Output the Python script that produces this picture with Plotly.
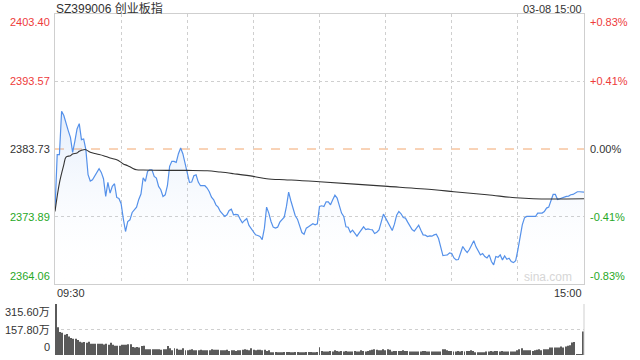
import plotly.graph_objects as go

# ---- data (minute index 0..240, 09:30-11:30 / 13:00-15:00) ----
prev_close = 2383.73
y_ticks_left = [2364.06, 2373.89, 2383.73, 2393.57, 2403.40]
y_ticks_right = ["-0.83%", "-0.41%", "0.00%", "+0.41%", "+0.83%"]
vol_ticks = [0, 157.80, 315.60]
vol_tick_labels = ["0", "157.80万", "315.60万"]

price = [
    2374.87, 2382.90, 2382.90, 2389.23, 2388.60, 2387.28, 2386.41, 2385.43, 2383.24, 2384.85,
    2386.65, 2387.43, 2385.09, 2385.19, 2383.63, 2379.98, 2379.06, 2379.25, 2379.84, 2380.42,
    2380.86, 2380.32, 2379.40, 2376.82, 2378.86, 2377.31, 2378.28, 2378.67, 2376.67, 2376.53,
    2375.75, 2373.56, 2371.71, 2373.17, 2373.41, 2374.48, 2374.87, 2375.26, 2376.38, 2377.16,
    2379.54, 2379.01, 2380.47, 2380.71, 2380.71, 2379.74, 2379.50, 2378.28, 2377.79, 2376.82,
    2377.06, 2378.38, 2381.20, 2381.93, 2381.93, 2381.78, 2383.05, 2383.88, 2383.05, 2381.78,
    2380.47, 2378.86, 2378.91, 2379.84, 2379.98, 2378.91, 2378.38, 2378.43, 2378.38, 2378.04,
    2377.50, 2376.72, 2376.33, 2375.60, 2375.26, 2374.63, 2374.24, 2373.90, 2374.14, 2374.78,
    2374.97, 2374.14, 2374.19, 2374.14, 2373.51, 2372.97, 2373.32, 2373.61, 2372.59, 2372.10,
    2371.76, 2371.22, 2371.12, 2370.98, 2370.54, 2372.20, 2375.26, 2374.39, 2373.17, 2372.34,
    2372.20, 2372.34, 2373.07, 2373.41, 2373.80, 2375.36, 2377.45, 2376.19, 2374.87, 2374.00,
    2373.51, 2372.68, 2371.56, 2371.32, 2372.20, 2372.39, 2372.68, 2372.83, 2372.68, 2372.83,
    2375.36, 2375.46, 2375.36, 2376.04, 2376.04, 2375.60, 2376.33, 2377.01, 2376.58, 2375.65,
    2374.39, 2373.90, 2372.39, 2372.34, 2371.56, 2371.90, 2371.47, 2371.03, 2371.51, 2372.05,
    2372.39, 2372.00, 2372.10, 2372.00, 2371.95, 2371.42, 2371.61, 2371.95, 2373.17, 2374.24,
    2373.66, 2373.02, 2372.39, 2371.85, 2372.78, 2374.09, 2374.63, 2374.29, 2373.75, 2373.66,
    2373.07, 2372.44, 2372.00, 2371.76, 2372.29, 2372.63, 2371.90, 2371.22, 2371.17, 2370.98,
    2371.08, 2371.03, 2371.22, 2371.32, 2370.69, 2369.28, 2368.20, 2368.25, 2368.30, 2368.59,
    2368.50, 2367.86, 2367.57, 2367.62, 2368.45, 2369.52, 2369.03, 2368.64, 2369.08, 2369.66,
    2370.35, 2369.47, 2368.93, 2368.30, 2368.50, 2368.06, 2367.86, 2368.30, 2367.33, 2366.84,
    2368.06, 2367.96, 2368.30, 2367.57, 2368.16, 2367.67, 2367.82, 2367.33, 2367.18, 2367.47,
    2369.03, 2370.74, 2372.68, 2373.70, 2373.90, 2373.90, 2373.90, 2374.00, 2373.90, 2374.39,
    2374.43, 2374.39, 2374.63, 2375.12, 2375.26, 2376.09, 2377.11, 2377.11, 2376.38, 2376.48,
    2376.62, 2376.72, 2376.82, 2376.87, 2377.06, 2377.11, 2377.35, 2377.50, 2377.50, 2377.50,
    2377.45,
]

avg_minutes = [0, 2, 4, 5, 7, 8, 10, 11, 13, 14, 16, 19, 22, 25, 28, 30, 31, 33, 35, 37, 40,
               51, 60, 69, 75, 81, 90, 96, 104, 111, 120, 151, 172, 181, 196, 209, 217, 240]
avg_price = [2374.63, 2378.77, 2381.44, 2382.56, 2382.76, 2383.00, 2383.15, 2383.39, 2383.63,
             2383.63, 2383.24, 2383.00, 2382.76, 2382.42, 2382.17, 2381.78, 2381.55, 2381.30,
             2380.96, 2380.71, 2380.66, 2380.61, 2380.61, 2380.57, 2380.37, 2380.13, 2379.74,
             2379.40, 2379.25, 2379.15, 2378.96, 2378.28, 2377.79, 2377.50, 2377.06, 2376.62,
             2376.48, 2376.48]

volume = (
    [315.6, 172, 143, 137, 126, 130, 114, 105, 101, 101, 93, 82, 78, 80, 76, 82]
    + [69, 69, 69, 69, 69, 69, 65, 69, 63, 76, 63, 57, 57, 57, 63, 63, 63, 67, 67]
    + [50, 46, 50, 46, 55, 57, 36, 36, 36, 36, 36, 36, 36, 32, 36, 36]
    + [55, 42, 29, 42, 38, 32, 32, 42, 29, 29, 32, 36, 29, 29, 29, 32]
    + [29, 29, 29, 29, 36, 32, 32, 32, 29, 29, 29, 32, 25, 29, 29, 25, 29, 29, 32, 36,
       32, 29, 42, 32, 29, 32, 32, 29, 32, 25, 29]
    + [17, 17, 19, 17, 17, 17, 19, 19, 19, 17, 17, 19, 19, 17, 17, 17, 19, 19, 19, 17, 17, 19]
    + [48]
    + [25, 21, 21, 21, 25, 21, 29, 25, 21, 25,
       21, 25, 21, 21, 21, 25, 21, 21, 29, 25,
       21, 25, 29, 32, 36, 32, 29, 29, 36, 29,
       36, 32, 21, 25, 25, 25, 25, 29, 25, 25,
       21, 21, 21, 21, 21, 21, 25, 25, 21, 21,
       21, 21, 21, 21, 21, 36, 36, 29, 25, 25,
       21, 21, 25, 21, 25, 21, 25, 25, 29, 25,
       17, 17, 17, 17, 17, 21, 21, 25, 21, 25,
       25, 21, 25, 21, 21, 21, 21, 21, 21, 29,
       36, 42, 29, 29, 29, 29, 25, 29, 32, 36,
       29, 36, 36, 36, 46, 46, 46, 46, 46, 53,
       46, 53, 57, 61, 78, 80, 3, 3, 3, 145]
)

minutes = list(range(len(price)))
vol_minutes = list(range(len(volume)))

RED = "#ee3b3b"
GREEN = "#27a827"
TXT = "#333333"
GRID = "#cfcfcf"
FONT = "Liberation Sans, Arial, Noto Sans CJK SC, sans-serif"

fig = go.Figure()

fig.add_trace(go.Scatter(
    x=minutes, y=price, mode="lines",
    line=dict(color="#5591ea", width=1.2),
    fill="tozeroy",
    fillgradient=dict(type="vertical",
                      colorscale=[[0, "rgba(255,255,255,0)"], [1, "rgba(85,145,234,0.16)"]],
                      start=2364.06, stop=2389.3),
    hoverinfo="skip", xaxis="x", yaxis="y",
))
fig.add_trace(go.Scatter(
    x=avg_minutes, y=avg_price, mode="lines", line=dict(color="#333333", width=1.1, shape="spline"),
    hoverinfo="skip", xaxis="x", yaxis="y",
))
fig.add_trace(go.Bar(
    x=vol_minutes, y=volume, marker=dict(color="#5a5a5a", line=dict(width=0)),
    hoverinfo="skip", xaxis="x2", yaxis="y2",
))

main_bottom = (355 - 284) / 341
vol_top = (355 - 304) / 341

fig.update_layout(
    width=640, height=360,
    margin=dict(l=55, r=56, t=14, b=5),
    paper_bgcolor="white", plot_bgcolor="rgba(0,0,0,0)",
    showlegend=False, bargap=0.55,
    font=dict(family=FONT, size=11, color=TXT),
    xaxis=dict(domain=[0, 1], range=[0, 240], tickvals=[30, 60, 90, 120, 150, 180, 210],
               showticklabels=False, ticks="", showgrid=True, gridcolor=GRID, griddash="dot",
               gridwidth=1, showline=True, mirror=True, linecolor=GRID, linewidth=1,
               zeroline=False, anchor="y"),
    yaxis=dict(domain=[main_bottom, 1], range=[2364.06, 2403.40],
               tickvals=[2373.89, 2393.57], showticklabels=False, ticks="",
               showgrid=True, gridcolor=GRID, griddash="dot", gridwidth=1,
               showline=True, mirror=True, linecolor=GRID, linewidth=1, zeroline=False,
               anchor="x"),
    xaxis2=dict(domain=[0, 1], range=[-0.4, 240.4], showticklabels=False, ticks="",
                showgrid=False, zeroline=False, showline=False, anchor="y2"),
    yaxis2=dict(domain=[0, vol_top], range=[0, 315.6], tickvals=[157.8, 315.6],
                showticklabels=False, ticks="", showgrid=True, gridcolor=GRID, griddash="dot",
                gridwidth=1, zeroline=False, showline=False, anchor="x2"),
)

# previous close dashed line
fig.add_shape(type="line", xref="x domain", yref="y", x0=0, x1=1, y0=prev_close, y1=prev_close,
              line=dict(color="#f2a66e", width=1, dash="dash"), layer="below")
# right border of volume panel
fig.add_shape(type="line", xref="paper", yref="y2 domain", x0=1, x1=1, y0=0, y1=1,
              line=dict(color=GRID, width=1))

left_colors = [GREEN, GREEN, TXT, RED, RED]
right_colors = [GREEN, GREEN, TXT, RED, RED]
anchors = ["bottom", "middle", "middle", "middle", "top"]
for val, rtxt, lc, rc, anc in zip(y_ticks_left, y_ticks_right, left_colors, right_colors, anchors):
    fig.add_annotation(xref="paper", yref="y", x=0, y=val, text=f"{val:.2f}", showarrow=False,
                       xanchor="right", yanchor=anc, xshift=-3, font=dict(color=lc, size=11))
    fig.add_annotation(xref="paper", yref="y", x=1, y=val, text=rtxt, showarrow=False,
                       xanchor="left", yanchor=anc, xshift=4, font=dict(color=rc, size=11))

vol_anchors = ["bottom", "middle", "top"]
for val, txt, anc in zip(vol_ticks, vol_tick_labels, vol_anchors):
    fig.add_annotation(xref="paper", yref="y2", x=0, y=val, text=txt, showarrow=False,
                       xanchor="right", yanchor=anc, xshift=-3, font=dict(color=TXT, size=11))

fig.add_annotation(xref="paper", yref="paper", x=0, y=main_bottom, text="09:30", showarrow=False,
                   xanchor="left", yanchor="top", yshift=-1, font=dict(color=TXT, size=11))
fig.add_annotation(xref="paper", yref="paper", x=1, y=main_bottom, text="15:00", showarrow=False,
                   xanchor="right", yanchor="top", yshift=-1, font=dict(color=TXT, size=11))
fig.add_annotation(xref="paper", yref="paper", x=0, y=1, text="SZ399006 创业板指", showarrow=False,
                   xanchor="left", yanchor="bottom", yshift=-4, xshift=-1,
                   font=dict(color=TXT, size=12))
fig.add_annotation(xref="paper", yref="paper", x=1, y=1, text="03-08 15:00", showarrow=False,
                   xanchor="right", yanchor="bottom", yshift=-3, font=dict(color=TXT, size=11))
fig.add_annotation(xref="paper", yref="y", x=1, y=2364.06, text="sina.com", showarrow=False,
                   xanchor="right", yanchor="bottom", xshift=-10, yshift=-2,
                   font=dict(color="#d6d6d6", size=12))

# remove the browser's default 8px page margin so the chart sits at the window's corner
fig.write_html("out.html", config={"displayModeBar": False},
               post_script="document.body.style.margin='0px';")
